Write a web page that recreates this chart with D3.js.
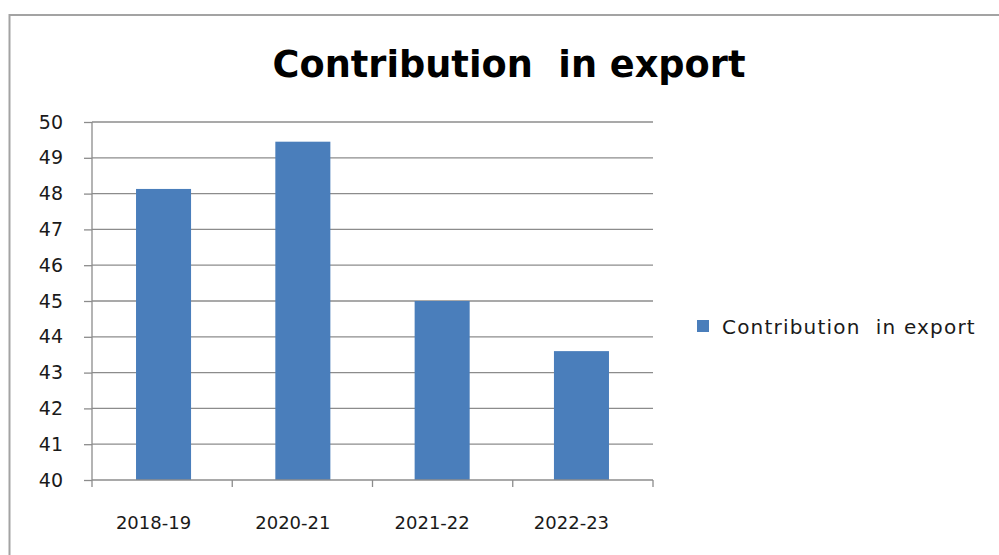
<!DOCTYPE html>
<html>
<head>
<meta charset="utf-8">
<script src="https://cdn.jsdelivr.net/npm/d3@7"></script>
<style>
  html, body { margin: 0; padding: 0; background: #fff; }
  svg { display: block; }
</style>
</head>
<body>
<svg id="chart" width="999" height="555"></svg>
<script>
const categories = ["2018-19", "2020-21", "2021-22", "2022-23"];
const values = [48.13, 49.45, 45.0, 43.6];
const yTicks = [40, 41, 42, 43, 44, 45, 46, 47, 48, 49, 50];
const seriesName = "Contribution  in export";
const titleText = "Contribution  in export";

const svg = d3.select("#chart");
const font = "'DejaVu Sans', Verdana, sans-serif";
const ink = "#1a1a1a";
const barColor = "#4a7ebb";
const gridColor = "#8c8c8c";

// outer chart frame
svg.append("rect")
  .attr("x", 9.5).attr("y", 15)
  .attr("width", 1100).attr("height", 700)
  .attr("fill", "#fff")
  .attr("stroke", "#a3a3a3").attr("stroke-width", 2);

const plot = { left: 92, right: 653, top: 122, bottom: 480 };

const x = d3.scaleBand()
  .domain(categories)
  .range([plot.left, plot.right])
  .paddingInner(0.605)
  .paddingOuter(0.316);

const y = d3.scaleLinear()
  .domain([40, 50])
  .range([plot.bottom, plot.top]);

// horizontal gridlines
svg.append("g")
  .selectAll("line")
  .data(yTicks.filter(t => t > 40))
  .join("line")
  .attr("x1", plot.left).attr("x2", plot.right)
  .attr("y1", d => y(d)).attr("y2", d => y(d))
  .attr("stroke", gridColor).attr("stroke-width", 1.3);

// bars
svg.append("g")
  .selectAll("rect")
  .data(values)
  .join("rect")
  .attr("x", (d, i) => x(categories[i]))
  .attr("width", x.bandwidth())
  .attr("y", d => y(d))
  .attr("height", d => y(40) - y(d))
  .attr("fill", barColor);

// y axis
const yAxis = svg.append("g")
  .attr("transform", `translate(${plot.left},0)`)
  .call(d3.axisLeft(y).tickValues(yTicks).tickFormat(d3.format("d")).tickSize(8).tickPadding(21));
yAxis.select(".domain").attr("stroke", gridColor).attr("stroke-width", 1.3).attr("d", `M0,${plot.top}V${plot.bottom}`);
yAxis.selectAll(".tick line").attr("stroke", gridColor).attr("stroke-width", 1.3);
yAxis.selectAll(".tick text")
  .attr("fill", ink)
  .style("font-family", font)
  .style("font-size", "19px");

// x axis with ticks on category boundaries
const xAxisG = svg.append("g").attr("transform", `translate(0,${plot.bottom})`);
xAxisG.append("line")
  .attr("x1", plot.left).attr("x2", plot.right)
  .attr("y1", 0).attr("y2", 0)
  .attr("stroke", gridColor).attr("stroke-width", 1.3);
const bounds = d3.range(categories.length + 1).map(i => plot.left + i * (plot.right - plot.left) / categories.length);
xAxisG.selectAll("line.tk")
  .data(bounds)
  .join("line")
  .attr("class", "tk")
  .attr("x1", d => d).attr("x2", d => d)
  .attr("y1", 0).attr("y2", 7)
  .attr("stroke", gridColor).attr("stroke-width", 1.3);
xAxisG.selectAll("text")
  .data(categories)
  .join("text")
  .attr("x", d => x(d) + x.bandwidth() / 2 - 10)
  .attr("y", 49)
  .attr("text-anchor", "middle")
  .attr("fill", ink)
  .style("font-family", font)
  .style("font-size", "18px")
  .text(d => d);

// title
svg.append("text")
  .attr("x", 509)
  .attr("y", 77)
  .attr("text-anchor", "middle")
  .attr("fill", "#000")
  .style("font-family", font)
  .style("font-weight", "bold")
  .style("font-size", "36.7px")
  .style("white-space", "pre")
  .attr("xml:space", "preserve")
  .text(titleText);

// legend
const legend = svg.append("g").attr("transform", "translate(697,320)");
legend.append("rect")
  .attr("width", 12).attr("height", 12)
  .attr("fill", barColor);
legend.append("text")
  .attr("x", 25).attr("y", 14)
  .attr("fill", ink)
  .style("font-family", font)
  .style("font-size", "20px")
  .style("letter-spacing", "1.2px")
  .style("white-space", "pre")
  .attr("xml:space", "preserve")
  .text(seriesName);
</script>
</body>
</html>
